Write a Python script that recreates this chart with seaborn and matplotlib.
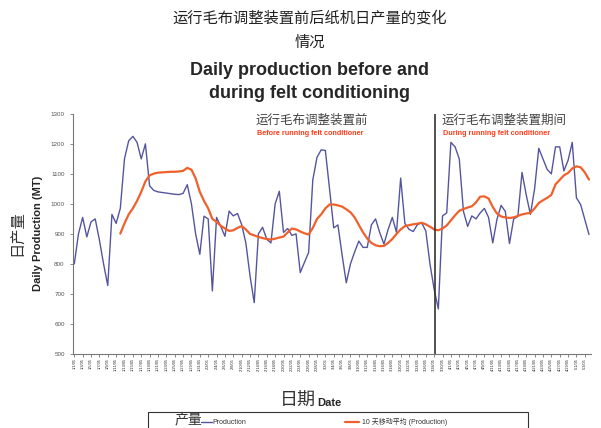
import matplotlib
matplotlib.use("Agg")
import matplotlib.pyplot as plt
from matplotlib.lines import Line2D
from matplotlib.patches import Rectangle
import seaborn as sns
import pandas as pd
import numpy as np

# daily production (MT), one value per day
production = [
    800, 900, 955, 890, 940, 950, 880, 800, 728, 965,
    935, 985, 1150, 1210, 1225, 1205, 1150, 1200, 1060, 1045,
    1040, 1038, 1036, 1034, 1032, 1031, 1035, 1064, 1000, 900,
    832, 959, 950, 710, 955, 925, 892, 976, 960, 968,
    931, 870, 760, 671, 900, 922, 882, 870, 1000, 1042,
    905, 918, 895, 900, 771, 805, 838, 1080, 1155, 1180,
    1178, 1050, 920, 930, 830, 737, 800, 840, 876, 855,
    855, 930, 950, 904, 866, 915, 955, 905, 1086, 935,
    915, 908, 931, 937, 910, 800, 715, 650, 960, 970,
    1205, 1190, 1150, 975, 925, 960, 950, 970, 985, 955,
    870, 948, 995, 975, 868, 950, 958, 1105, 1030, 965,
    1050, 1185, 1150, 1115, 1100, 1190, 1190, 1110, 1145, 1205,
    1020, 998, 948, 898,
]

# 10-day moving average as drawn on the chart (starts on day 12)
moving_avg = [np.nan] * 11 + [
    901, 935, 965, 985, 1010, 1040, 1075, 1095, 1101,
    1104, 1105, 1106, 1107, 1107, 1108, 1110, 1120, 1114, 1085,
    1040, 1010, 985, 950, 940, 927, 918, 910, 912, 920,
    926, 915, 900, 895, 890, 886, 883, 881, 884, 888,
    891, 905, 918, 915, 908, 902, 898, 920, 950, 965,
    985, 998, 998, 995, 991, 982, 972, 955, 930, 905,
    885, 870, 862, 859, 860, 870, 883, 900, 915, 926,
    929, 932, 934, 937, 932, 924, 915, 912, 918, 928,
    945, 962, 977, 983, 988, 992, 1005, 1024, 1025, 1018,
    990, 968, 958, 955, 953, 955, 960, 965, 968, 970,
    985, 1003, 1012, 1020, 1030, 1065, 1080, 1095, 1103, 1118,
    1125, 1122, 1105, 1081,
]

dates = pd.date_range("2005-01-01", periods=len(production), freq="D")
date_labels = [f"{d.month}/{d.day}/{d.strftime('%y')}" for d in dates]
start_day = 86.1  # felt conditioner switched on

df = pd.DataFrame({"day": np.arange(len(production)),
                   "production": production,
                   "avg": moving_avg})

sns.set_style("white")
plt.rcParams["font.family"] = ["Liberation Sans", "Noto Sans CJK SC"]

fig = plt.figure(figsize=(6.01, 4.28), dpi=100)
ax = fig.add_axes([0.1215, 0.173, 0.862, 0.561])

sns.lineplot(data=df, x="day", y="production", ax=ax, color="#55559f", linewidth=1.0)
sns.lineplot(data=df, x="day", y="avg", ax=ax, color="#f0602a", linewidth=1.6)
ax.axvline(start_day, color="#333333", linewidth=1.2)

ax.set_xlim(-0.3, len(production) - 0.5)
ax.set_ylim(600, 1300)
ax.set_ylim(500, 1300)
ax.set_yticks(range(500, 1301, 100))
ax.tick_params(axis="y", labelsize=4.5, labelcolor="#555555", length=2.5, width=0.6, color="#777777", direction="out", left=True)
ax.set_xticks(range(0, len(production), 2))
ax.set_xticklabels(date_labels[::2], rotation=90, fontsize=2.8)
ax.tick_params(axis="x", length=2, width=0.5, color="#555555", direction="out", bottom=True, pad=1)
ax.set_xlabel("")
ax.set_ylabel("")
for side in ["top", "right"]:
    ax.spines[side].set_visible(False)
for side in ["left", "bottom"]:
    ax.spines[side].set_color("#777777")
    ax.spines[side].set_linewidth(0.8)

# titles
fig.text(0.515, 0.957, "运行毛布调整装置前后纸机日产量的变化", ha="center", va="center", fontsize=11, color="#222222")
fig.text(0.515, 0.900, "情况", ha="center", va="center", fontsize=11, color="#222222")
fig.text(0.515, 0.835, "Daily production before and", ha="center", va="center", fontsize=13, fontweight="bold")
fig.text(0.515, 0.782, "during felt conditioning", ha="center", va="center", fontsize=13, fontweight="bold")

# axis labels
fig.text(0.030, 0.455, "日产量", rotation=90, ha="center", va="center", fontsize=11, color="#333333")
fig.text(0.064, 0.455, "Daily Production (MT)", rotation=90, ha="center", va="center", fontsize=8, fontweight="bold")
fig.text(0.525, 0.062, "日期", ha="right", va="center", fontsize=13, color="#333333")
fig.text(0.528, 0.058, "Date", ha="left", va="center", fontsize=8, fontweight="bold")

# period annotations
fig.text(0.425, 0.718, "运行毛布调整装置前", ha="left", va="center", fontsize=9, color="#444444")
fig.text(0.427, 0.688, "Before running felt conditioner", ha="left", va="center", fontsize=5.2, fontweight="bold", color="#ff3b1a")
fig.text(0.735, 0.718, "运行毛布调整装置期间", ha="left", va="center", fontsize=9, color="#444444")
fig.text(0.737, 0.688, "During running felt conditioner", ha="left", va="center", fontsize=5.2, fontweight="bold", color="#ff3b1a")

# legend box, cut at the bottom edge
fig.patches.append(Rectangle((0.247, -0.05), 0.632, 0.088, transform=fig.transFigure,
                             fill=False, edgecolor="#333333", linewidth=0.8))
fig.text(0.290, 0.017, "产量", ha="left", va="center", fontsize=10, color="#333333")
fig.lines.append(Line2D([0.335, 0.352], [0.014, 0.014], transform=fig.transFigure, color="#55559f", linewidth=1.0))
fig.text(0.353, 0.014, "Production", ha="left", va="center", fontsize=5, color="#333333")
fig.lines.append(Line2D([0.574, 0.598], [0.014, 0.014], transform=fig.transFigure, color="#f0602a", linewidth=1.6))
fig.text(0.602, 0.014, "10 天移动平均 (Production)", ha="left", va="center", fontsize=5, color="#333333")

fig.savefig("out.png", dpi=100)
